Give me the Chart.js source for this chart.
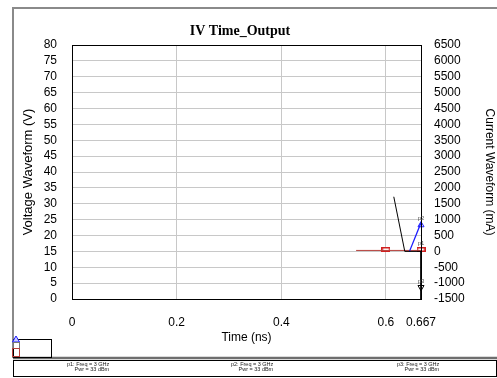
<!DOCTYPE html>
<html>
<head>
<meta charset="utf-8">
<script src="https://cdn.jsdelivr.net/npm/chart.js@4.4.1/dist/chart.umd.min.js"></script>
<style>
  html, body { margin: 0; padding: 0; background: #fff; }
  canvas { display: block; }
</style>
</head>
<body>
<canvas id="ivChart" width="497" height="378"></canvas>
<script>
'use strict';

// tick labels
let timeTicks = [0, 0.2, 0.4, 0.6, 0.667];
let voltTicks = [0, 5, 10, 15, 20, 25, 30, 35, 40, 45, 50, 55, 60, 65, 70, 75, 80];
let currTicks = [-1500, -1000, -500, 0, 500, 1000, 1500, 2000, 2500, 3000, 3500, 4000, 4500, 5000, 5500, 6000, 6500];

// voltage waveform (V)
let voltTime = [0.543, 0.667];
let voltValues = [15.3, 15.3];

// current waveform (mA)
let currTime = [0.645, 0.667];
let currValues = [0, 900];

// second current trace (black)
let traceTime = [0.615, 0.636, 0.667, 0.667];
let traceValues = [1720, 0, 0, -1500];

// markers p1 (voltage), p2 and p3 (current)
let p1Time = [0.6, 0.667];
let p1Values = [15.6, 15.6];
let p2Time = [0.667];
let p2Values = [830];
let p3Time = [0.667];
let p3Values = [-1130];

let footNotes = [
  ['p1: Freq = 3 GHz', 'Pwr = 33 dBm'],
  ['p2: Freq = 3 GHz', 'Pwr = 33 dBm'],
  ['p3: Freq = 3 GHz', 'Pwr = 33 dBm']
];

function pairs(xs, ys) {
  let out = [];
  for (let i = 0; i < xs.length; i++) {
    out.push({x: xs[i], y: ys[i]});
  }
  return out;
}

function boxMark(w, h, color) {
  let c = document.createElement('canvas');
  c.width = w;
  c.height = h;
  let g = c.getContext('2d');
  g.fillStyle = '#fff';
  g.fillRect(0, 0, w, h);
  g.strokeStyle = color;
  g.lineWidth = 1.5;
  g.strokeRect(0.75, 0.75, w - 1.5, h - 1.5);
  return c;
}

let tickFont = {family: 'Liberation Sans', size: 12};
let sansFont = 'Liberation Sans, Arial, sans-serif';
let voltColor = '#b5403c';

let decor = {
  id: 'decor',
  beforeDraw(chart) {
    let ctx = chart.ctx;
    ctx.save();
    ctx.fillStyle = '#fff';
    ctx.fillRect(0, 0, chart.width, chart.height);
    // outer grey frame
    ctx.strokeStyle = '#8a8a8a';
    ctx.lineWidth = 2;
    ctx.beginPath();
    ctx.moveTo(497, 8);
    ctx.lineTo(13, 8);
    ctx.lineTo(13, 358);
    ctx.stroke();
    ctx.strokeStyle = '#6e6e6e';
    ctx.lineWidth = 2.5;
    ctx.beginPath();
    ctx.moveTo(13, 358);
    ctx.lineTo(497, 358);
    ctx.stroke();
    ctx.restore();
  },
  afterDraw(chart) {
    let ctx = chart.ctx;
    let a = chart.chartArea;
    ctx.save();
    ctx.strokeStyle = '#000';
    ctx.lineWidth = 1;
    ctx.strokeRect(Math.round(a.left) + 0.5, Math.round(a.top) + 0.5, Math.round(a.right - a.left), Math.round(a.bottom - a.top));

    // title
    ctx.fillStyle = '#000';
    ctx.font = 'bold 14px Liberation Serif, Times New Roman, serif';
    ctx.textAlign = 'center';
    ctx.textBaseline = 'middle';
    ctx.fillText('IV Time_Output', 240, 31);

    // marker labels
    let xs = chart.scales.x;
    let y1 = chart.scales.y;
    let y2 = chart.scales.y2;
    ctx.font = '6px ' + sansFont;
    ctx.fillStyle = '#555';
    ctx.fillText('p1', xs.getPixelForValue(p1Time[1]), y1.getPixelForValue(p1Values[1]) - 6);
    ctx.fillText('p2', xs.getPixelForValue(p2Time[0]), y2.getPixelForValue(p2Values[0]) - 7);
    ctx.fillText('p3', xs.getPixelForValue(p3Time[0]), y2.getPixelForValue(p3Values[0]) - 6);

    // small legend box
    ctx.strokeStyle = '#000';
    ctx.strokeRect(13.5, 339.5, 38, 18);
    ctx.fillStyle = '#ccccff';
    ctx.strokeStyle = '#1a1aff';
    ctx.beginPath();
    ctx.moveTo(16, 336);
    ctx.lineTo(12.5, 342);
    ctx.lineTo(19.5, 342);
    ctx.closePath();
    ctx.fill();
    ctx.stroke();
    ctx.strokeStyle = '#777';
    ctx.strokeRect(13.5, 342.5, 6, 6);
    ctx.strokeStyle = voltColor;
    ctx.strokeRect(12.5, 348.5, 7, 8);

    // footnote box
    ctx.strokeStyle = '#000';
    ctx.lineWidth = 1;
    ctx.strokeRect(13.5, 360.5, 483, 16);
    ctx.fillStyle = '#222';
    ctx.font = '5.5px ' + sansFont;
    ctx.textAlign = 'left';
    let starts = [67, 231, 397];
    for (let i = 0; i < footNotes.length; i++) {
      ctx.fillText(footNotes[i][0], starts[i], 364);
      ctx.fillText(footNotes[i][1], starts[i] + 7.5, 369.5);
    }
    ctx.restore();
  }
};

let ctx = document.getElementById('ivChart').getContext('2d');
let ivChart = new Chart(ctx, {
  type: 'scatter',
  data: {
    datasets: [
      {
        label: 'trace',
        data: pairs(traceTime, traceValues),
        yAxisID: 'y2',
        showLine: true,
        borderColor: '#000',
        borderWidth: 1,
        pointRadius: 0
      },
      {
        label: 'Current',
        data: pairs(currTime, currValues),
        yAxisID: 'y2',
        showLine: true,
        borderColor: '#1a1aff',
        borderWidth: 1.3,
        pointRadius: 0
      },
      {
        label: 'Voltage',
        data: pairs(voltTime, voltValues),
        yAxisID: 'y',
        showLine: true,
        borderColor: voltColor,
        borderWidth: 1,
        pointRadius: 0
      },
      {
        label: 'p1',
        data: pairs(p1Time, p1Values),
        yAxisID: 'y',
        showLine: false,
        pointStyle: boxMark(9, 5, '#d02020'),
        clip: false
      },
      {
        label: 'p2',
        data: pairs(p2Time, p2Values),
        yAxisID: 'y2',
        showLine: false,
        pointStyle: 'triangle',
        pointRadius: 3.5,
        borderColor: '#1a1aff',
        backgroundColor: 'rgba(0,0,0,0)',
        borderWidth: 1,
        clip: false
      },
      {
        label: 'p3',
        data: pairs(p3Time, p3Values),
        yAxisID: 'y2',
        showLine: false,
        pointStyle: 'triangle',
        rotation: 180,
        pointRadius: 3.5,
        borderColor: '#000',
        backgroundColor: 'rgba(0,0,0,0)',
        borderWidth: 1,
        clip: false
      }
    ]
  },
  options: {
    responsive: false,
    animation: false,
    layout: {padding: {left: 14, right: 0, top: 45, bottom: 32}},
    plugins: {
      legend: {display: false},
      title: {display: false},
      tooltip: {enabled: false}
    },
    scales: {
      x: {
        type: 'linear',
        min: 0,
        max: 0.667,
        afterBuildTicks: s => { s.ticks = timeTicks.map(v => ({value: v})); },
        afterFit: s => { s.height = 47; },
        grid: {
          drawTicks: false,
          color: c => (c.tick && (c.tick.value === 0 || c.tick.value === 0.667)) ? 'rgba(0,0,0,0)' : '#c8c8c8'
        },
        border: {color: '#000'},
        ticks: {
          autoSkip: false,
          maxRotation: 0,
          padding: 16,
          color: '#000',
          font: tickFont,
          callback: v => String(v)
        },
        title: {
          display: true,
          text: 'Time (ns)',
          color: '#000',
          font: tickFont,
          padding: {top: 0, bottom: 1}
        }
      },
      y: {
        type: 'linear',
        position: 'left',
        min: 0,
        max: 80,
        afterBuildTicks: s => { s.ticks = voltTicks.map(v => ({value: v})); },
        afterFit: s => { s.width = 58; },
        grid: {drawTicks: false, color: '#c8c8c8'},
        border: {color: '#000'},
        ticks: {autoSkip: false, padding: 15, color: '#000', font: tickFont, callback: v => String(v)},
        title: {
          display: true,
          text: 'Voltage Waveform (V)',
          color: '#000',
          font: {family: 'Liberation Sans', size: 13},
          padding: {top: 7, bottom: 0}
        }
      },
      y2: {
        type: 'linear',
        position: 'right',
        min: -1500,
        max: 6500,
        afterBuildTicks: s => { s.ticks = currTicks.map(v => ({value: v})); },
        afterFit: s => { s.width = 76; },
        grid: {display: false, drawTicks: false},
        border: {color: '#000'},
        ticks: {autoSkip: false, padding: 13, color: '#000', font: tickFont, callback: v => String(v)},
        title: {
          display: true,
          text: 'Current Waveform (mA)',
          color: '#000',
          font: tickFont,
          padding: {top: 0, bottom: 0}
        }
      }
    }
  },
  plugins: [decor]
});
</script>
</body>
</html>
